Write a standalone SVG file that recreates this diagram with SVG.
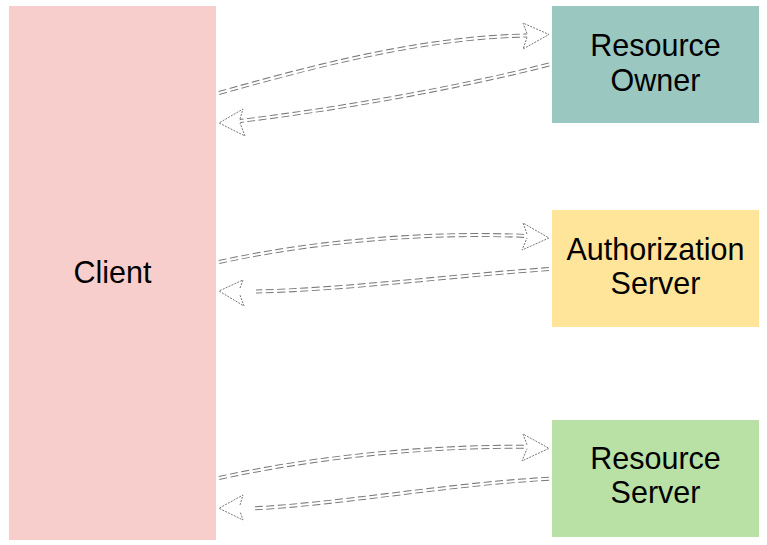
<svg xmlns="http://www.w3.org/2000/svg" width="767" height="545" viewBox="0 0 767 545">
  <style>
    .lbl { font-family: "Liberation Sans", Arial, sans-serif; font-size: 30.5px; fill: #000; text-anchor: middle; }
    .shaft-o { fill: none; stroke: #7a7a7a; stroke-width: 4; stroke-dasharray: 8 3.5; }
    .shaft-i { fill: none; stroke: #fff; stroke-width: 2; }
    .head { fill: none; stroke: #777; stroke-width: 1; stroke-dasharray: 2 1.2; stroke-linejoin: round; }
  </style>
  <rect x="0" y="0" width="767" height="545" fill="#fff"/>
  <g id="client">
    <rect x="9" y="6" width="207" height="534" fill="#f8cecc"/>
    <text class="lbl" x="112.5" y="282.5">Client</text>
  </g>
  <g id="resource-owner">
    <rect x="552" y="6" width="207" height="117" fill="#9ac7bf"/>
    <text class="lbl" x="655.5" y="56">Resource</text>
    <text class="lbl" x="655.5" y="90.5">Owner</text>
  </g>
  <g id="authorization-server">
    <rect x="552" y="210" width="207" height="117" fill="#ffe599"/>
    <text class="lbl" x="655.5" y="259.5">Authorization</text>
    <text class="lbl" x="655.5" y="294">Server</text>
  </g>
  <g id="resource-server">
    <rect x="552" y="420" width="207" height="117" fill="#b9e0a5"/>
    <text class="lbl" x="655.5" y="468.5">Resource</text>
    <text class="lbl" x="655.5" y="503">Server</text>
  </g>
  <g id="connectors">
    <!-- Client -> Resource Owner -->
    <path class="shaft-o" d="M219,93 C300,70 420,37 527,35.5"/>
    <path class="shaft-i" d="M219,93 C300,70 420,37 527,35.5"/>
    <polyline class="head" points="527,33.5 523,23 549,34.5 523,49 527,37.5"/>
    <!-- Resource Owner -> Client -->
    <path class="shaft-o" d="M549,64.5 C450,90 330,110 240,121"/>
    <path class="shaft-i" d="M549,64.5 C450,90 330,110 240,121"/>
    <polyline class="head" points="240,119 243,109 219,123 245,136 240,123"/>
    <!-- Client -> Authorization Server -->
    <path class="shaft-o" d="M219,262 C320,240 430,232 527,236"/>
    <path class="shaft-i" d="M219,262 C320,240 430,232 527,236"/>
    <polyline class="head" points="527,234 523,223 549,238 522,250 527,238"/>
    <!-- Authorization Server -> Client -->
    <path class="shaft-o" d="M549,269 C450,276 340,290 256,291.5"/>
    <path class="shaft-i" d="M549,269 C450,276 340,290 256,291.5"/>
    <polyline class="head" points="240,288 243,280 219,291 244,306 240,295"/>
    <!-- Client -> Resource Server -->
    <path class="shaft-o" d="M219,478 C320,456 430,446 527,446.7"/>
    <path class="shaft-i" d="M219,478 C320,456 430,446 527,446.7"/>
    <polyline class="head" points="527,444.7 523,434 549,448.3 522,461 527,448.7"/>
    <!-- Resource Server -> Client -->
    <path class="shaft-o" d="M549,478.7 C450,484 340,504 255,508.3"/>
    <path class="shaft-i" d="M549,478.7 C450,484 340,504 255,508.3"/>
    <polyline class="head" points="240,505 243,495 219,508.3 243,520 240,511.5"/>
  </g>
</svg>
